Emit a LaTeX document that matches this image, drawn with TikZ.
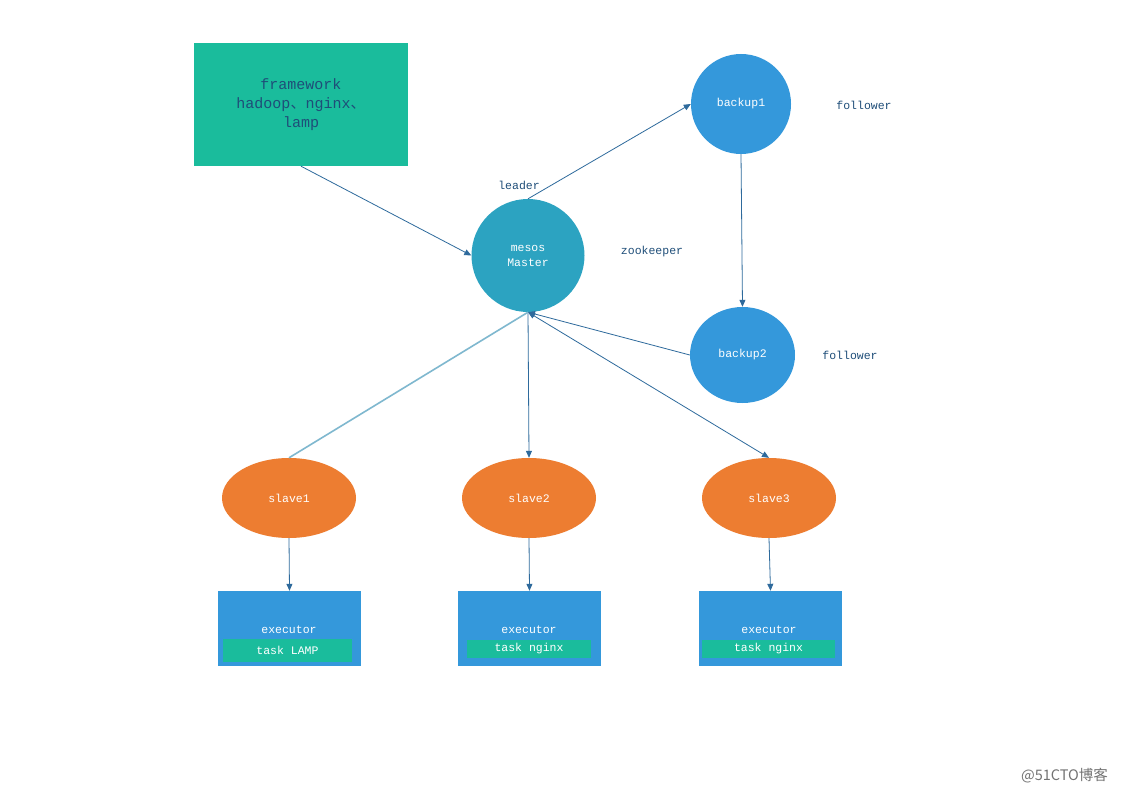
\documentclass[tikz,border=0pt]{standalone}
\usepackage{fontspec}
\setmainfont{Liberation Mono}
\newfontfamily\cjk{Noto Sans CJK SC}
\usetikzlibrary{arrows.meta,shapes.geometric}
\definecolor{fwgreen}{HTML}{1ABC9C}
\definecolor{mastercol}{HTML}{2CA3C1}
\definecolor{bkblue}{HTML}{3498DB}
\definecolor{slaveor}{HTML}{ED7D31}
\definecolor{txtblue}{HTML}{1F4E79}
\definecolor{arrcol}{HTML}{2E6A9C}
\definecolor{lightln}{HTML}{7FB8CF}
\tikzset{
  lbl/.style={font=\fontsize{11.5}{13}\selectfont, text=txtblue, inner sep=0pt},
  wtxt/.style={font=\fontsize{11.5}{13}\selectfont, text=white, align=center, inner sep=0pt},
  circnode/.style={circle, inner sep=0pt},
  slavenode/.style={ellipse, fill=slaveor, minimum width=134pt, minimum height=80pt, inner sep=0pt, font=\fontsize{11.5}{13}\selectfont, text=white},
  execbox/.style={rectangle, fill=bkblue, minimum width=143pt, minimum height=75pt, inner sep=0pt},
  taskbox/.style={rectangle, fill=fwgreen, inner sep=0pt, font=\fontsize{11.5}{13}\selectfont, text=white},
  arr/.style={draw=arrcol, line width=0.8pt, -{Triangle[length=7pt,width=6pt]}},
}
\begin{document}
\begin{tikzpicture}[x=1pt,y=-1pt]
\useasboundingbox[fill=white] (0,0) rectangle (1123,794);

% framework box
\node[rectangle, fill=fwgreen, minimum width=214pt, minimum height=123pt, inner sep=0pt,
      font=\fontsize{15}{19}\selectfont, text=txtblue, align=center] (fw) at (301,104.5)
  {framework\\hadoop{\cjk 、}nginx{\cjk 、}\\lamp};

% master
\node[circnode, fill=mastercol, minimum size=113pt, wtxt] (master) at (528,255.5)
  {mesos\\[2pt]Master};
\node[lbl] (leader) at (519,185) {leader};
\node[lbl] (zk) at (652,252) {zookeeper};

% backups
\node[circnode, fill=bkblue, minimum size=100pt, wtxt] (b1) at (741,104) {backup1};
\node[lbl] (f1) at (864,105) {follower};
\node[ellipse, fill=bkblue, minimum width=105pt, minimum height=96pt, inner sep=0pt, wtxt] (b2) at (742.5,355) {backup2};
\node[lbl] (f2) at (850,355) {follower};

% slaves
\node[slavenode] (s1) at (289,498) {slave1};
\node[slavenode] (s2) at (529,498) {slave2};
\node[slavenode] (s3) at (769,498) {slave3};

% executors
\node[execbox] (e1) at (289.5,628.5) {};
\node[execbox] (e2) at (529.5,628.5) {};
\node[execbox] (e3) at (770.5,628.5) {};
\node[wtxt] (e1t) at (289,630) {executor};
\node[wtxt] (e2t) at (529,630) {executor};
\node[wtxt] (e3t) at (769,630) {executor};
\node[taskbox, minimum width=129pt, minimum height=23pt] (t1) at (287.5,650) {task LAMP};
\node[taskbox, minimum width=124pt, minimum height=18pt] (t2) at (529,649) {task nginx};
\node[taskbox, minimum width=133pt, minimum height=18pt] (t3) at (768.5,649) {task nginx};

% watermark
\node[font=\fontsize{14.5}{16}\selectfont\cjk, text=black!55, inner sep=0pt] (wm) at (1064.5,776) {@51CTO博客};

% connectors
\draw[arr] (fw.south) -- (master.west);
\draw[arr] (master.north) -- (b1.west);
\draw[arr] (b1.south) -- (b2.north);
\draw[arr] (b2.west) -- (master.south);
\draw[arr] (master.south) -- (s2.north);
\draw[arr, {Triangle[length=7pt,width=6pt]}-{Triangle[length=7pt,width=6pt]}] (master.south) -- (s3.north);
\draw[draw=lightln, line width=1.6pt] (s1.north) -- (master.south);
\draw[arr] (s1.south) -- (e1.north);
\draw[arr] (s2.south) -- (e2.north);
\draw[arr] (s3.south) -- (e3.north);
\end{tikzpicture}
\end{document}
